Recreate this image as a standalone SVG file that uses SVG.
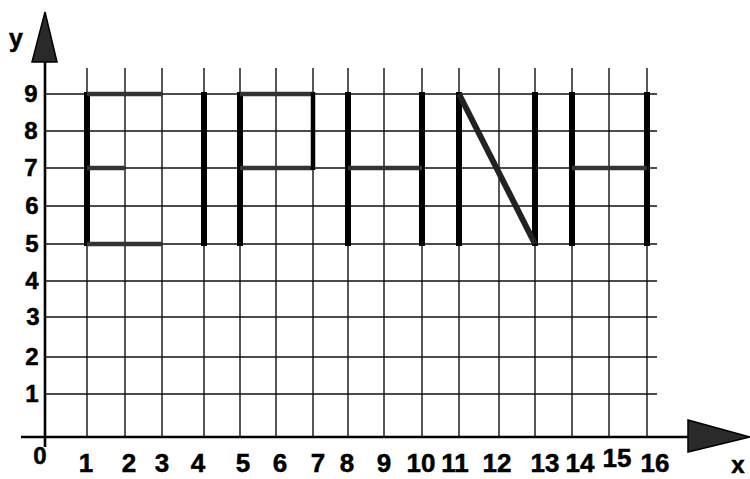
<svg xmlns="http://www.w3.org/2000/svg" width="750" height="479" viewBox="0 0 750 479">
<style>
.g{stroke:#111;stroke-width:1.4;fill:none}
.ax{stroke:#000;stroke-width:2.6;fill:none}
.v{stroke:#000;stroke-width:6;stroke-linecap:butt;fill:none}
.h{stroke:#333;stroke-width:4.5;stroke-linecap:butt;fill:none}
.arr{fill:#2a2a2a;stroke:#000;stroke-width:1.5}
text{font-family:"Liberation Sans",Arial,sans-serif;font-weight:bold;fill:#000;stroke:#000;stroke-width:0.5}
.xl{font-size:26px;text-anchor:middle}
.yl{font-size:24px;text-anchor:middle}
</style>
<rect width="750" height="479" fill="#fff"/>
<g id="grid">
<path class="g" d="M87 68V437M125 68V437M162 68V437M204 68V437M240 68V437M276 68V437M313 68V437M348 68V437M384 68V437M422 68V437M459 68V437M499 68V437M535 68V437M572 68V437M609 68V437M647 68V437"/>
<path class="g" d="M45 94H657M45 131H657M45 168H657M45 206H657M45 244H657M45 281H657M45 317H657M45 357H657M45 394H657"/>
</g>
<g id="axes">
<path class="ax" d="M45 60V447M21 437H690"/>
<polygon class="arr" points="45,12 32,62 57,62"/>
<polygon class="arr" points="688,420 750,437 688,452"/>
</g>
<g id="letter-C">
<path class="v" d="M87 92V246"/>
<path class="h" d="M87 94H162M87 168H125M87 244H162"/>
</g>
<g id="letter-I">
<path class="v" d="M204 92V246"/>
</g>
<g id="letter-P">
<path class="v" d="M240 92V246"/>
<path class="h" d="M240 94H313M240 168H313"/>
<path class="v" style="stroke-width:4.5" d="M313 92V170"/>
</g>
<g id="letter-H1">
<path class="v" d="M348 92V246M422 92V246"/>
<path class="h" d="M348 168H422"/>
</g>
<g id="letter-N">
<path class="v" d="M459 92V246M535 92V246"/>
<path class="v" style="stroke:#222" d="M459 94L535 244"/>
</g>
<g id="letter-H2">
<path class="v" d="M572 92V246M647 92V246"/>
<path class="h" d="M572 168H647"/>
</g>
<g id="labels">
<text x="16" y="47" style="font-size:25px" text-anchor="middle">y</text>
<text x="738" y="473" style="font-size:24px" text-anchor="middle">x</text>
<text x="40" y="464" class="yl">0</text>
<text x="31" y="102" class="yl">9</text>
<text x="31" y="139" class="yl">8</text>
<text x="31" y="176" class="yl">7</text>
<text x="32" y="214" class="yl">6</text>
<text x="32" y="252" class="yl">5</text>
<text x="32" y="289" class="yl">4</text>
<text x="33" y="325" class="yl">3</text>
<text x="32" y="365" class="yl">2</text>
<text x="32" y="402" class="yl">1</text>
<text x="86" y="472" class="xl">1</text>
<text x="129" y="472" class="xl">2</text>
<text x="162" y="472" class="xl">3</text>
<text x="198" y="472" class="xl">4</text>
<text x="243" y="472" class="xl">5</text>
<text x="280" y="472" class="xl">6</text>
<text x="318" y="472" class="xl">7</text>
<text x="347" y="472" class="xl">8</text>
<text x="384" y="472" class="xl">9</text>
<text x="421" y="472" class="xl">10</text>
<text x="455" y="472" class="xl">11</text>
<text x="497" y="472" class="xl">12</text>
<text x="545" y="472" class="xl">13</text>
<text x="580" y="472" class="xl">14</text>
<text x="617" y="467" class="xl">15</text>
<text x="655" y="472" class="xl">16</text>
</g>
</svg>
